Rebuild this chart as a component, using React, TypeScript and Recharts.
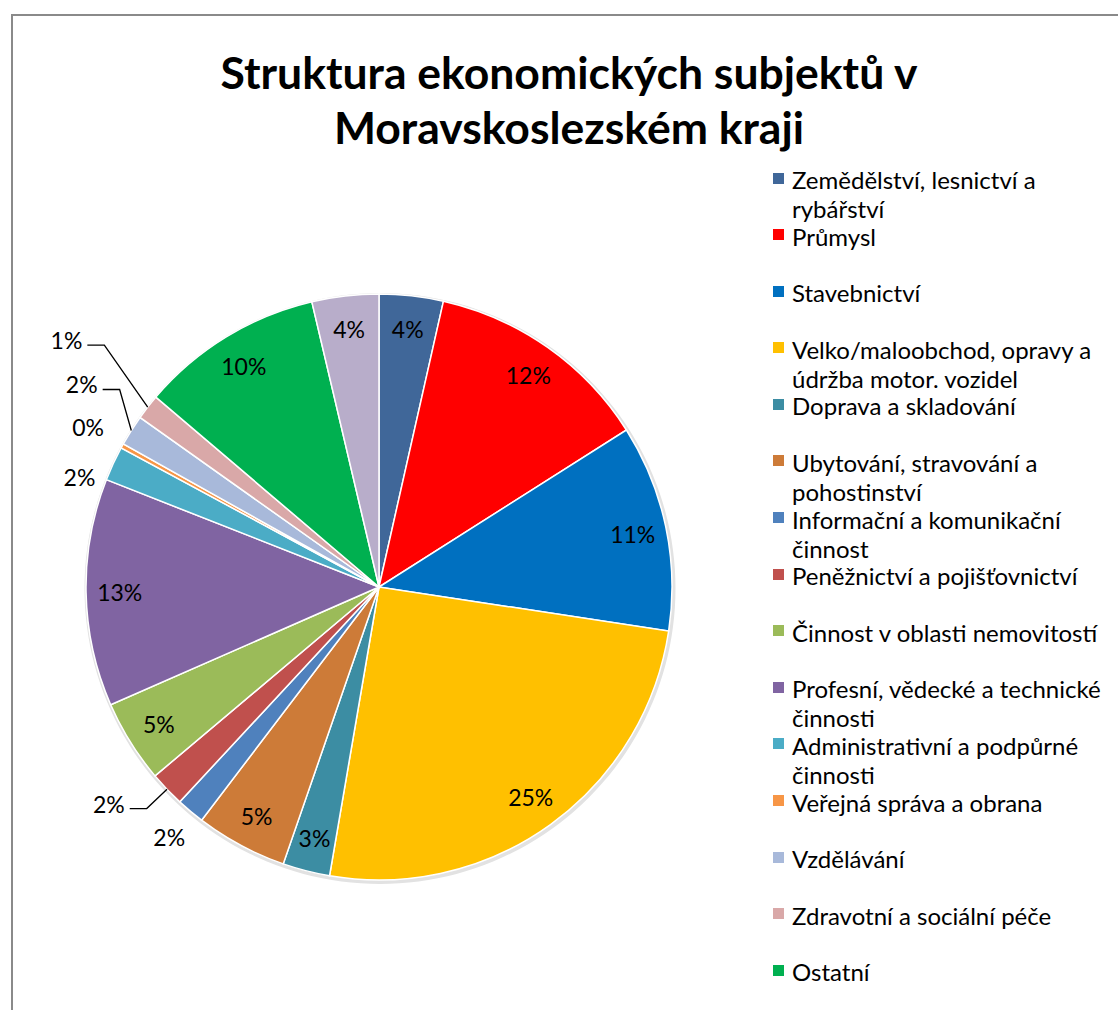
import React from 'react';
import { PieChart, Pie, Cell, Legend } from 'recharts';

// sectors in drawing order (clockwise from 12 o'clock)
const SECTORS = [
  'Zemědělství, lesnictví a rybářství',
  'Průmysl',
  'Stavebnictví',
  'Velko/maloobchod, opravy a údržba motor. vozidel',
  'Doprava a skladování',
  'Ubytování, stravování a pohostinství',
  'Informační a komunikační činnost',
  'Peněžnictví a pojišťovnictví',
  'Činnost v oblasti nemovitostí',
  'Profesní, vědecké a technické činnosti',
  'Administrativní a podpůrné činnosti',
  'Veřejná správa a obrana',
  'Vzdělávání',
  'Zdravotní a sociální péče',
  'Ostatní',
  'Neuvedeno',
];

// share of subjects, %
const SHARES = [3.53, 12.47, 11.4, 25.3, 2.6, 5.05, 1.55, 1.95, 4.57, 12.55, 1.9, 0.25, 1.7, 1.4, 10.1, 3.68];

const COLORS = [
  '#406799', '#FF0000', '#0070C0', '#FFC000', '#3C8DA3', '#CD7B38', '#4F81BD', '#C0504D',
  '#9BBB59', '#8064A2', '#4BACC6', '#F79646', '#A8B9DA', '#D9A8A8', '#00B050', '#B8ADCA',
];

// where each data label goes: inside, outside, or outside with a leader line
// dist = px beyond the rim, shift = clockwise degrees off the slice middle
const LABEL_PLACE = ['in', 'in', 'in', 'in', 'in', 'in', 'out', 'leader', 'in', 'in', 'out', 'out', 'leader', 'leader', 'in', 'in'];
const LABEL_OFFSET: Record<number, { dist: number; shift: number }> = {
  6: { dist: 33, shift: 0 },
  7: { dist: 28, shift: 0 },
  10: { dist: 26, shift: -4.8 },
  11: { dist: 39, shift: 0 },
  12: { dist: 33, shift: 5 },
  13: { dist: 73, shift: 3.5 },
};

const FONT = 'Lato, "Open Sans", sans-serif';
const RAD = Math.PI / 180;

const data = SECTORS.map((name, i) => ({ name, value: SHARES[i] }));

const renderLabel = (props: any) => {
  const { cx, cy, midAngle, outerRadius, percent, index } = props;
  const text = `${Math.round(percent * 100)}%`;
  const pt = (r: number, a: number) => ({
    x: cx + r * Math.cos(-a * RAD),
    y: cy + r * Math.sin(-a * RAD),
  });
  const style = { fontFamily: FONT, fontSize: 23, fill: '#000' };
  const place = LABEL_PLACE[index];

  if (place === 'in') {
    const p = pt(outerRadius * 0.885, midAngle);
    return (
      <text x={p.x} y={p.y} textAnchor="middle" dominantBaseline="central" style={style}>
        {text}
      </text>
    );
  }

  const off = LABEL_OFFSET[index];
  if (place === 'out') {
    const p = pt(outerRadius + off.dist, midAngle - off.shift);
    return (
      <text x={p.x} y={p.y} textAnchor="middle" dominantBaseline="central" style={style}>
        {text}
      </text>
    );
  }

  const start = pt(outerRadius, midAngle);
  const elbow = pt(outerRadius + off.dist, midAngle - off.shift);
  const endX = elbow.x - 17;
  return (
    <g>
      <path
        d={`M${start.x},${start.y}L${elbow.x},${elbow.y}L${endX},${elbow.y}`}
        stroke="#000"
        strokeWidth={1.3}
        fill="none"
      />
      <text x={endX - 5} y={elbow.y - 5} textAnchor="end" dominantBaseline="central" style={style}>
        {text}
      </text>
    </g>
  );
};

// legend keeps the series order (no sorting)
const renderLegend = () => (
  <div style={{ fontFamily: FONT, fontSize: 24, color: '#000' }}>
    {data.map((d, i) => (
      <div key={d.name} style={{ position: 'relative', height: 56.6 }}>
        <span
          style={{
            position: 'absolute',
            left: 1,
            top: 7.5,
            width: 11,
            height: 11,
            background: COLORS[i],
          }}
        />
        <div style={{ position: 'absolute', left: 20, top: 0, width: 328, lineHeight: '29px', whiteSpace: 'normal' }}>
          {d.name}
        </div>
      </div>
    ))}
  </div>
);

const App: React.FC = () => {
  return (
    <div style={{ position: 'fixed', left: 0, top: 0, width: 1118, height: 1010, overflow: 'hidden', background: '#fff' }}>
      <div
        style={{
          position: 'absolute',
          left: 11,
          top: 14,
          width: 1130,
          height: 1010,
          border: '2px solid #8a8a8a',
          boxSizing: 'border-box',
        }}
      />
      <div
        style={{
          position: 'absolute',
          left: 0,
          top: 44,
          width: 1138,
          textAlign: 'center',
          fontFamily: FONT,
          fontWeight: 700,
          fontSize: 44.5,
          lineHeight: '55px',
          color: '#000',
        }}
      >
        Struktura ekonomických subjektů v<br />
        Moravskoslezském kraji
      </div>
      <div style={{ position: 'absolute', left: 0, top: 0 }}>
        <PieChart width={1118} height={1010} margin={{ top: 0, right: 0, bottom: 0, left: 0 }}>
          <Pie
            data={[{ name: 'shadow', value: 1 }]}
            dataKey="value"
            cx={380}
            cy={588.5}
            outerRadius={295.5}
            fill="#e2e2e2"
            stroke="none"
            legendType="none"
            isAnimationActive={false}
          />
          <Pie
            data={data}
            dataKey="value"
            nameKey="name"
            cx={379}
            cy={587}
            outerRadius={293}
            startAngle={90}
            endAngle={-270}
            stroke="#fff"
            strokeWidth={1.5}
            label={renderLabel}
            labelLine={false}
            isAnimationActive={false}
          >
            {data.map((d, i) => (
              <Cell key={d.name} fill={COLORS[i]} />
            ))}
          </Pie>
          <Legend
            layout="vertical"
            align="right"
            verticalAlign="top"
            content={renderLegend}
            wrapperStyle={{ left: 772, top: 165, width: 346, right: 'auto' }}
          />
        </PieChart>
      </div>
    </div>
  );
};

export default App;
